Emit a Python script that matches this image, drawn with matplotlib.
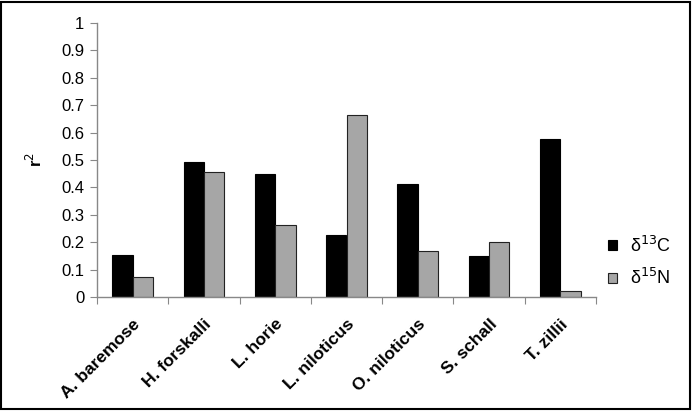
import matplotlib
matplotlib.use("Agg")
import matplotlib.pyplot as plt
import numpy as np
from matplotlib.patches import Rectangle

species = ["A. baremose", "H. forskalli", "L. horie", "L. niloticus",
           "O. niloticus", "S. schall", "T. zillii"]
d13C = [0.152, 0.494, 0.450, 0.228, 0.414, 0.149, 0.575]
d15N = [0.073, 0.456, 0.262, 0.665, 0.167, 0.201, 0.022]
yticks = [0, 0.1, 0.2, 0.3, 0.4, 0.5, 0.6, 0.7, 0.8, 0.9, 1]

plt.rcParams['font.family'] = ['Liberation Sans', 'DejaVu Sans']

fig = plt.figure(figsize=(6.92, 4.12), dpi=100)
W, H = 692, 412
ax = fig.add_axes([97 / W, 1 - 297 / H, (596 - 97) / W, (297 - 23) / H])

x = np.arange(len(species))
w = 0.2857
ax.bar(x - w / 2, d13C, width=w, color='black', edgecolor='black', linewidth=0.8, label='δ$^{13}$C')
ax.bar(x + w / 2, d15N, width=w, color='#a6a6a6', edgecolor='#222222', linewidth=0.8, label='δ$^{15}$N')

ax.set_xlim(-0.5, len(species) - 0.5)
ax.set_ylim(0, 1)
ax.set_yticks(yticks)
ax.set_yticklabels([f"{v:g}" for v in yticks], fontsize=12)
ax.set_xticks(np.arange(len(species) + 1) - 0.5)
ax.set_xticklabels([])
ax.set_xticks(x, minor=True)
ax.set_xticklabels(species, minor=True, rotation=45, ha='right', va='top',
                   rotation_mode='anchor', fontsize=12.5, fontweight='bold')
ax.tick_params(axis='x', which='minor', length=0, pad=14)
ax.tick_params(axis='x', which='major', length=5, color='#888888', direction='out')
ax.tick_params(axis='y', length=5, color='#888888', direction='out', pad=4)

for s in ['top', 'right']:
    ax.spines[s].set_visible(False)
for s in ['left', 'bottom']:
    ax.spines[s].set_color('#888888')
    ax.spines[s].set_linewidth(1)

ax.set_ylabel('r$^{2}$', fontsize=12, fontweight='bold', labelpad=12)

leg = fig.legend(loc='center left', bbox_to_anchor=(608 / W, 1 - 262 / H),
                 frameon=False, fontsize=13, handlelength=0.5, handleheight=0.5,
                 handletextpad=0.7, labelspacing=0.7, borderpad=0, borderaxespad=0)

fig.patches.append(Rectangle((1 / W, 3 / H), 689 / W, 407 / H, transform=fig.transFigure,
                             fill=False, edgecolor='black', linewidth=1.5))

fig.savefig('out.png', dpi=100)
